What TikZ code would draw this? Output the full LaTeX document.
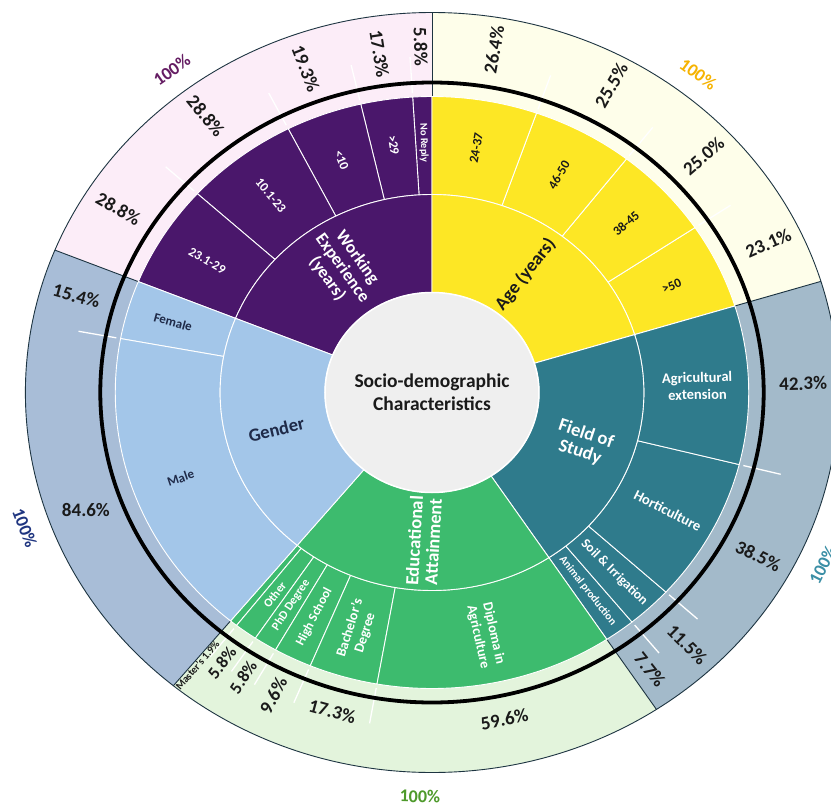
\documentclass[tikz,border=0pt]{standalone}
\usepackage{fontspec}
\setmainfont{Carlito}
\usepackage{tikz}
\usetikzlibrary{calc}

\definecolor{wexp}{HTML}{4A176B}
\definecolor{wexpout}{HTML}{FCEDF8}
\definecolor{age}{HTML}{FDE725}
\definecolor{ageout}{HTML}{FEFEEA}
\definecolor{fos}{HTML}{2F7B8C}
\definecolor{fosout}{HTML}{A3BACA}
\definecolor{edu}{HTML}{3DBB6E}
\definecolor{eduout}{HTML}{E3F4DC}
\definecolor{gen}{HTML}{A3C6E9}
\definecolor{genout}{HTML}{A8BDD7}
\definecolor{hub}{HTML}{EFEFEF}
\definecolor{rim}{HTML}{1D3441}
\definecolor{txtdark}{HTML}{1A1A1A}
\definecolor{gentxt}{HTML}{1F2A48}
\definecolor{wexplab}{HTML}{651D63}
\definecolor{agelab}{HTML}{F6B300}
\definecolor{foslab}{HTML}{3B8FA6}
\definecolor{genlab}{HTML}{1F3580}
\definecolor{edulab}{HTML}{4E9A2B}

\tikzset{
  seg/.style={draw=white, line width=0.9pt},
  tick/.style={draw=white, line width=1.3pt},
  rimline/.style={draw=rim, line width=0.9pt},
  radial/.style={rotate={atan(tan(#1)/1.07)}},
  tangent/.style={rotate={atan(-cot(#1)/1.07)}},
  pct/.style={font=\fontsize{19}{19}\selectfont\bfseries, text=txtdark, inner sep=0pt},
  sublab/.style={font=\fontsize{13}{14}\selectfont\bfseries, align=center, inner sep=0pt},
  catlab/.style={font=\fontsize{18.5}{19}\selectfont\bfseries, align=center, inner sep=0pt},
  total/.style={font=\fontsize{18}{18}\selectfont\bfseries, inner sep=0pt}
}

% ring piece: start angle, end angle, inner radius, outer radius, options
\newcommand{\ringsector}[5]{%
  \path[#5] (#1:#3) arc[start angle=#1, end angle=#2, radius=#3]
    -- (#2:#4) arc[start angle=#2, end angle=#1, radius=#4] -- cycle;}

\begin{document}
\begin{tikzpicture}
\fill[white] (-432pt,-414.5pt) rectangle (399pt,392.5pt);
\useasboundingbox (-432pt,-414.5pt) rectangle (399pt,392.5pt);
\begin{scope}[xscale=1.07]
%
% outer ring
\ringsector{90}{158}{296pt}{380pt}{fill=wexpout}
\ringsector{17}{90}{296pt}{380pt}{fill=ageout}
\ringsector{-56.5}{17}{296pt}{380pt}{fill=fosout}
\ringsector{230.5}{303.5}{296pt}{380pt}{fill=eduout}
\ringsector{158}{230.5}{296pt}{380pt}{fill=genout}
\foreach \a in {93.5,103,117,137.8,33.86,52.11,70.73,-50.84,-42.39,-14.09,231.9,236.1,240.4,247.4,260,169.5}
  \draw[tick] (\a:300pt) -- (\a:336pt);
\draw[rimline] (0,0) circle[radius=380pt];
\foreach \a in {90,158,230.5,303.5,17}
  \draw[rimline] (\a:296pt) -- (\a:380pt);
%
% sub ring
\foreach \a/\b in {90/93.5,93.5/103,103/117,117/137.8,137.8/158}
  {\ringsector{\a}{\b}{198pt}{296pt}{seg, fill=wexp}}
\foreach \a/\b in {17/33.86,33.86/52.11,52.11/70.73,70.73/90}
  {\ringsector{\a}{\b}{198pt}{296pt}{seg, fill=age}}
\foreach \a/\b in {-56.5/-50.84,-50.84/-42.39,-42.39/-14.09,-14.09/17}
  {\ringsector{\a}{\b}{198pt}{296pt}{seg, fill=fos}}
\foreach \a/\b in {230.5/231.9,231.9/236.1,236.1/240.4,240.4/247.4,247.4/260,260/303.5}
  {\ringsector{\a}{\b}{198pt}{296pt}{seg, fill=edu}}
\foreach \a/\b in {158/169.5,169.5/230.5}
  {\ringsector{\a}{\b}{198pt}{296pt}{seg, fill=gen}}
%
% category ring
\ringsector{90}{158}{100pt}{198pt}{seg, fill=wexp}
\ringsector{17}{90}{100pt}{198pt}{seg, fill=age}
\ringsector{-56.5}{17}{100pt}{198pt}{seg, fill=fos}
\ringsector{230.5}{303.5}{100pt}{198pt}{seg, fill=edu}
\ringsector{158}{230.5}{100pt}{198pt}{seg, fill=gen}
\filldraw[fill=hub, draw=white, line width=1.5pt] (0,0) circle[radius=100pt];
\draw[black, line width=3.8pt] (0,0) circle[radius=310pt];
%
% centre and categories
\node[font=\fontsize{19.5}{23}\selectfont\bfseries, align=center, text=txtdark] (hubtxt) at (0,0) {Socio-demographic\\Characteristics};
\node[catlab, text=white, radial=124, font=\fontsize{17.5}{18.5}\selectfont\bfseries] (catwexp) at (124:150pt) {Working\\Experience\\(years)};
\node[catlab, text=txtdark, radial=53.5] (catage) at (53.5:147pt) {Age (years)};
\node[catlab, text=white, radial=-19.75] (catfos) at (-19.75:150pt) {Field of\\Study};
\node[catlab, text=white, radial=267] (catedu) at (267:149pt) {Educational\\Attainment};
\node[catlab, text=gentxt, radial=194.25] (catgen) at (194.25:150pt) {Gender};
%
% sub labels
\node[sublab, text=white, radial=147.9] (w1) at (147.9:248pt) {23.1-29};
\node[sublab, text=white, radial=127.4] (w2) at (127.4:248pt) {10.1-23};
\node[sublab, text=white, radial=110] (w3) at (110:247pt) {<10};
\node[sublab, text=white, radial=98.25] (w4) at (98.25:250pt) {>29};
\node[sublab, text=white, radial=91.75, font=\fontsize{10.5}{11}\selectfont\bfseries] (w5) at (91.75:250pt) {No Reply};
\node[sublab, text=txtdark, radial=80.4] (a1) at (80.4:248pt) {24-37};
\node[sublab, text=txtdark, radial=61.4] (a2) at (61.4:248pt) {46-50};
\node[sublab, text=txtdark, radial=43] (a3) at (43:248pt) {38-45};
\node[sublab, text=txtdark, radial=25.4] (a4) at (25.4:248pt) {>50};
\node[sublab, text=white, radial=1.5, font=\fontsize{14.5}{17}\selectfont\bfseries] (f1) at (1.5:248pt) {Agricultural\\extension};
\node[sublab, text=white, radial=-28.2, font=\fontsize{14.5}{15}\selectfont\bfseries] (f2) at (-28.2:250pt) {Horticulture};
\node[sublab, text=white, radial=-46.6, font=\fontsize{13.5}{14}\selectfont\bfseries] (f3) at (-46.6:248pt) {Soil \& Irrigation};
\node[sublab, text=white, radial=-53.7, font=\fontsize{11}{11}\selectfont\bfseries] (f4) at (-53.7:246pt) {Animal production};
\node[sublab, text=white, radial=234, font=\fontsize{12}{12}\selectfont\bfseries] (e1) at (234:250pt) {Other};
\node[sublab, text=white, radial=238.2, font=\fontsize{12}{12}\selectfont\bfseries] (e2) at (238.2:250pt) {PhD Degree};
\node[sublab, text=white, radial=243.9] (e3) at (243.9:250pt) {High School};
\node[sublab, text=white, radial=253.7, font=\fontsize{14}{16}\selectfont\bfseries] (e4) at (253.7:248pt) {Bachelor’s\\Degree};
\node[sublab, text=white, radial=281.7, font=\fontsize{14}{16}\selectfont\bfseries] (e5) at (281.7:248pt) {Diploma in\\Agriculture};
\node[sublab, text=gentxt, radial=163.8] (g1) at (163.8:252pt) {Female};
\node[sublab, text=gentxt, radial=200] (g2) at (200:250pt) {Male};
%
% percentages
\node[pct, radial=147.9] (pw1) at (147.9:346pt) {28.8\%};
\node[pct, radial=127.4] (pw2) at (127.4:348pt) {28.8\%};
\node[pct, radial=110] (pw3) at (110:345pt) {19.3\%};
\node[pct, radial=98.25] (pw4) at (98.25:342pt) {17.3\%};
\node[pct, radial=91.75] (pw5) at (91.75:346pt) {5.8\%};
\node[pct, radial=80.4] (pa1) at (80.4:348pt) {26.4\%};
\node[pct, radial=61.4] (pa2) at (61.4:350pt) {25.5\%};
\node[pct, radial=43] (pa3) at (43:347pt) {25.0\%};
\node[pct, radial=25.4] (pa4) at (25.4:348pt) {23.1\%};
\node[pct, radial=1.5] (pf1) at (1.5:347pt) {42.3\%};
\node[pct, radial=-28.2] (pf2) at (-28.2:346pt) {38.5\%};
\node[pct, radial=-46.6] (pf3) at (-46.6:347pt) {11.5\%};
\node[pct, radial=-53.7] (pf4) at (-53.7:344pt) {7.7\%};
\node[pct, radial=231.2, font=\fontsize{10.5}{11}\selectfont\bfseries] (pe0) at (231.2:350pt) {Master’s 1.9\%};
\node[pct, radial=234, font=\fontsize{17.5}{18}\selectfont\bfseries] (pe1) at (234:334pt) {5.8\%};
\node[pct, radial=238.2, font=\fontsize{17.5}{18}\selectfont\bfseries] (pe2) at (238.2:335pt) {5.8\%};
\node[pct, radial=243.9] (pe3) at (243.9:337pt) {9.6\%};
\node[pct, tangent=253.7] (pe4) at (253.7:332pt) {17.3\%};
\node[pct, tangent=281.7] (pe5) at (281.7:334pt) {59.6\%};
\node[pct, radial=163.8] (pg1) at (163.8:346pt) {15.4\%};
\node[pct] (pg2) at (199.9:344pt) {84.6\%};
%
% totals
\node[total, text=wexplab, tangent=127] (twexp) at (127:404pt) {100\%};
\node[total, text=agelab, tangent=52] (tage) at (52:404pt) {100\%};
\node[total, text=foslab, tangent=-25.3] (tfos) at (-25.3:404pt) {100\%};
\node[total, text=genlab, tangent=199.6] (tgen) at (199.6:404pt) {100\%};
\node[total, text=edulab, tangent=268.4] (tedu) at (268.4:404pt) {100\%};
\end{scope}
\end{tikzpicture}
\end{document}
